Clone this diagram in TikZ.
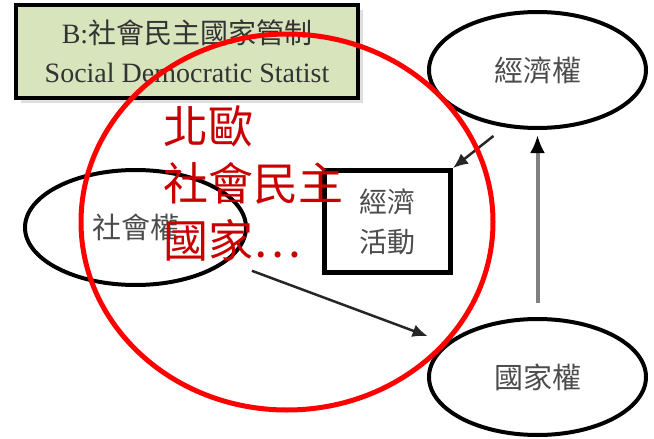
\documentclass[tikz,border=0pt]{standalone}
\usepackage{fontspec}
\setmainfont{Liberation Serif}
\newfontfamily\cjk{Noto Sans CJK TC}
\usepackage{tikz}
\usetikzlibrary{arrows.meta, shapes.geometric, shadows}
\definecolor{panelGreen}{RGB}{216,228,188}
\definecolor{noteRed}{RGB}{200,0,0}
\newcommand{\ringColor}{red}
\newcommand{\labelColor}{black!70}
\tikzset{
    power/.style = {draw, ellipse, line width=4pt, minimum width=217pt,
        minimum height=116pt, inner sep=0pt, text=\labelColor,
        font=\cjk\fontsize{29}{30}\selectfont},
    actbox/.style = {draw, rectangle, line width=5pt, minimum width=126pt,
        minimum height=102pt, align=center, text=\labelColor,
        font=\cjk\fontsize{28}{40}\selectfont},
    titlebox/.style = {draw, rectangle, line width=4pt, fill=panelGreen,
        minimum width=342pt, minimum height=93pt, align=center,
        text=black!80, font=\fontsize{28}{39}\selectfont,
        drop shadow={shadow xshift=5pt, shadow yshift=-5pt, fill=black!25}},
    arr/.style = {line width=2.5pt, black!85,
        -{Latex[length=15pt, width=13pt]}},
    grayarr/.style = {line width=4pt, black!50,
        -{Latex[length=18pt, width=15pt, color=black]}},
    redring/.style = {draw=\ringColor, line width=5pt}
}
\begin{document}
\begin{tikzpicture}[x=1pt, y=-1pt]
    \useasboundingbox (0,0) rectangle (654,439);
    % title panel, the three powers and the economic activity box
    \node[titlebox] (title) at (187,51.5) {B:{\cjk 社會民主國家管制}\\Social Democratic Statist};
    \node[power] (econ) at (537.5,70) {經濟權};
    \node[power] (state) at (537.5,377) {國家權};
    \node[power, minimum width=221pt, minimum height=115pt] (soc) at (135.5,227.5) {社會權};
    \node[actbox] (act) at (387.5,221.5) {經濟\\活動};

    \draw[arr, shorten <=14pt] (econ.240) -- (act.north east);
    \draw[grayarr, shorten <=14pt, shorten >=5pt] (state.north) -- (econ.south);
    \draw[arr, shorten <=26pt, shorten >=20pt] (soc) -- (state);

    % red note and ring on top
    \node[anchor=north west, inner sep=0pt, align=left, text=noteRed,
        font=\cjk\fontsize{45}{57}\selectfont] (note) at (163,105) {北歐\\社會民主\\國家…};
    \coordinate (ring) at (287,222);
    \draw[redring] (ring) ellipse [x radius=206pt, y radius=188pt];
\end{tikzpicture}
\end{document}
